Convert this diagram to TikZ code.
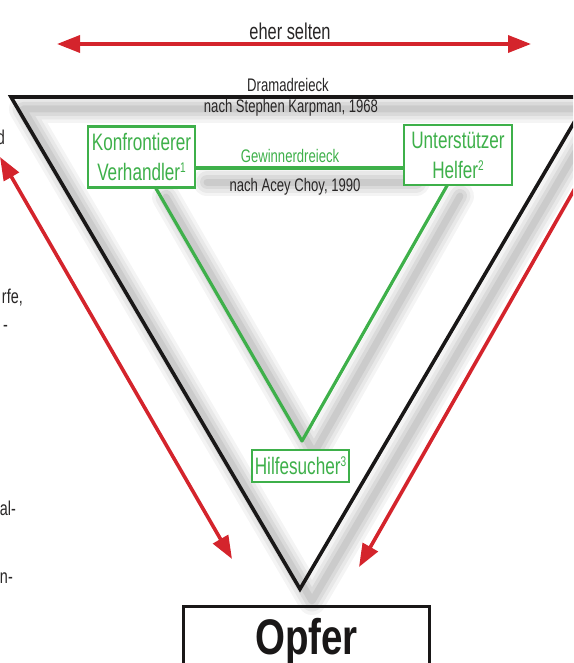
\documentclass[tikz,border=0pt]{standalone}
\usepackage{fontspec}
\setmainfont[FakeStretch=0.72]{Liberation Sans}
\newfontfamily\opferfont[FakeStretch=0.77]{Liberation Sans}
\usetikzlibrary{arrows.meta,calc}
\definecolor{dgreen}{RGB}{62,176,74}
\definecolor{dred}{RGB}{212,36,44}
\definecolor{txt}{RGB}{40,38,38}
\definecolor{blk}{RGB}{25,23,23}
\newcommand{\supnum}[1]{{\fontsize{14}{14}\selectfont\raisebox{8pt}{#1}}}
\begin{document}
\begin{tikzpicture}[x=1pt,y=-1pt,
  gbox/.style={draw=dgreen, line width=2.3pt, fill=white, text=dgreen, align=center, inner sep=0pt,
    font=\fontsize{23.8}{30}\selectfont},
  gline/.style={draw=dgreen, line width=3.2pt},
  bline/.style={draw=blk, line width=3.6pt, line join=miter},
  rtip/.tip={Triangle[length=23pt,width=17pt]},
  rarrow/.style={draw=dred, line width=3.6pt, -rtip},
  rdouble/.style={draw=dred, line width=3.6pt, rtip-rtip},
  small/.style={text=txt, font=\fontsize{18.2}{21}\selectfont, inner sep=0pt},
  frag/.style={text=txt, font=\fontsize{20}{23}\selectfont, inner sep=0pt, anchor=base east},
  shad/.style={draw=black, line join=round, line cap=round}
]
\useasboundingbox (0,0) rectangle (573,663);
\clip (0,0) rectangle (573,663);

% coordinates
\coordinate (A) at (11,97);
\coordinate (B) at (589,97);
\coordinate (C) at (300,589);
\coordinate (G) at (302,441);
\coordinate (kr) at (195,168);
\coordinate (ul) at (404,168);
\coordinate (kb) at (154,185);
\coordinate (ub) at (448,184);

% shadows
\foreach \w/\o in {28/0.045,21/0.05,14/0.06,7/0.065}{
  \draw[shad, line width=\w pt, opacity=\o]
    ($(A)+(12,12)$) -- ($(B)+(12,12)$) -- ($(C)+(12,12)$) -- cycle;
  \draw[shad, line width=\w pt, opacity=\o]
    ($(kb)+(12,12)$) -- ($(G)+(12,12)$) -- ($(ub)+(12,12)$);
  \draw[shad, line width=\w pt, opacity=\o]
    ($(kr)+(12,14)$) -- ($(ul)+(12,14)$);
}

% black drama triangle
\draw[bline] (A) -- (B) -- (C) -- cycle;

% green lines
\draw[gline] (kr) -- (ul);
\draw[gline, line join=round] (kb) -- (G) -- (ub);

% green boxes
\node[gbox, minimum width=107pt, minimum height=61pt] (K) at (141.5,157) {Konfrontierer\\Verhandler\supnum{1}};
\node[gbox, minimum width=108pt, minimum height=60pt] (U) at (458,155) {Unterstützer\\Helfer\supnum{2}};
\node[gbox, minimum width=97pt, minimum height=32pt] (H) at (300.5,466) {Hilfesucher\supnum{3}};

% labels
\node[text=txt, font=\fontsize{22.8}{26}\selectfont, inner sep=0pt, anchor=base] (es) at (290,40) {eher selten};
\node[small, anchor=base] (dd) at (288,92) {Dramadreieck};
\node[small, anchor=base] (sk) at (291,113) {nach Stephen Karpman, 1968};
\node[small, text=dgreen, anchor=base] (gd) at (290,163) {Gewinnerdreieck};
\node[small, anchor=base] (ac) at (295,191) {nach Acey Choy, 1990};

% red arrows
\coordinate (tl) at (57,44);
\coordinate (tr) at (531,44);
\draw[rdouble] (tl) -- (tr);
\coordinate (l1) at (0,157);
\coordinate (l2) at (232,559);
\draw[rdouble] (l1) -- (l2);
\coordinate (r1) at (610,127);
\coordinate (r2) at (359,567);
\draw[rarrow] (r1) -- (r2);

% Opfer box
\node[draw=blk, line width=2.6pt, anchor=north, minimum width=246pt, text=blk,
  font=\opferfont\fontsize{50}{52}\selectfont\bfseries, text height=36pt, text depth=0pt,
  inner ysep=12pt] (O) at (306.5,605) {Opfer};

% cut-off text fragments at the left edge
\node[frag] (f1) at (5,145) {d};
\node[frag] (f2) at (23,303) {rfe,};
\node[frag] (f3) at (8,331) {-};
\node[frag] (f4) at (16,515) {al-};
\node[frag] (f5) at (13,583) {n-};
\end{tikzpicture}
\end{document}
